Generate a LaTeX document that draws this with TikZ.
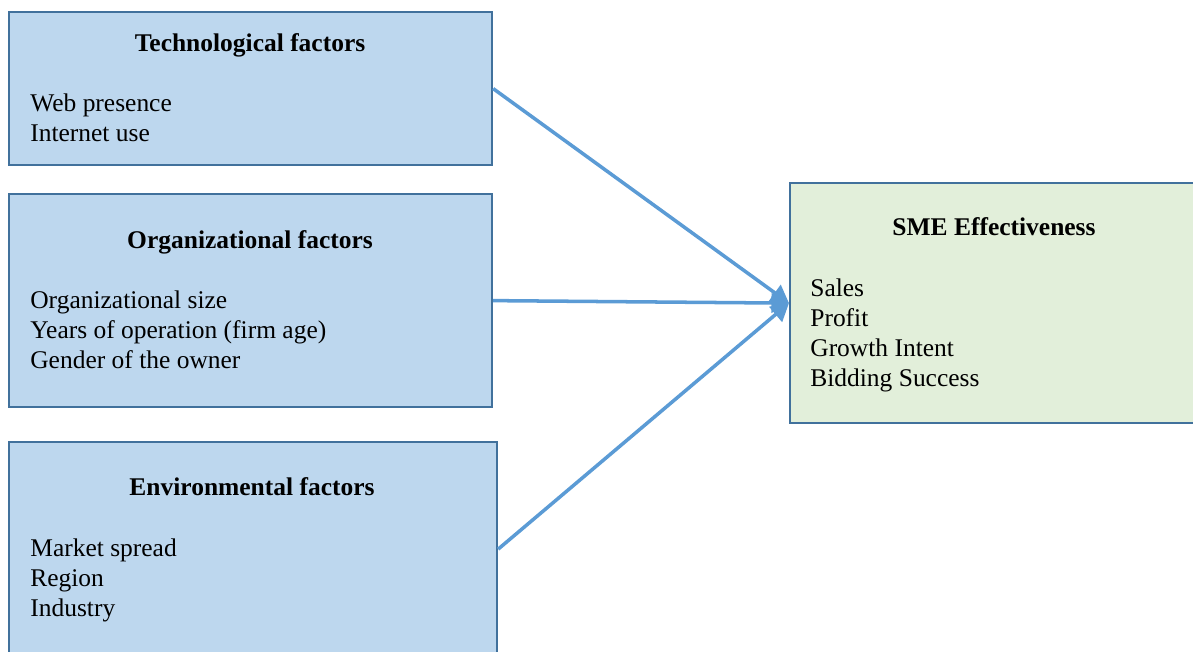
\documentclass[tikz,border=0pt]{standalone}
\usepackage{fontspec}
\setmainfont{Liberation Serif}
\usetikzlibrary{arrows.meta}

\definecolor{boxblue}{HTML}{BDD7EE}
\definecolor{boxgreen}{HTML}{E2EFDA}
\definecolor{edgeblue}{HTML}{41719C}
\definecolor{arrowblue}{HTML}{5B9BD5}

\tikzset{
  factor/.style={draw=edgeblue, line width=1.3pt, fill=boxblue, anchor=north west, inner sep=0pt},
  outcome/.style={factor, fill=boxgreen},
  head/.style={font=\fontsize{14.5}{17}\selectfont\bfseries, anchor=mid, inner sep=0pt},
  item/.style={font=\fontsize{14.5}{17}\selectfont, anchor=mid west, inner sep=0pt},
  link/.style={draw=arrowblue, line width=2pt, -{Triangle[length=10pt,width=11pt]}}
}

\begin{document}
\begin{tikzpicture}[x=0.02cm, y=-0.02cm]
  \useasboundingbox (0,0) rectangle (1193,652);
  \clip (0,0) rectangle (1193,652);

  % the three factor boxes and the outcome box
  \node[factor, minimum width=9.66cm, minimum height=3.06cm] (tech) at (8,11) {};
  \node[factor, minimum width=9.66cm, minimum height=4.26cm] (org) at (8,193) {};
  \node[factor, minimum width=9.76cm, minimum height=4.28cm] (env) at (8,441) {};
  \node[outcome, minimum width=8.4cm, minimum height=4.8cm] (sme) at (789,182) {};

  % titles
  \node[head] (tech-head) at (250,47) {Technological factors};
  \node[head] (org-head) at (250,244) {Organizational factors};
  \node[head] (env-head) at (252,491) {Environmental factors};
  \node[head] (sme-head) at (994,231) {SME Effectiveness};

  % items
  \foreach \txt [count=\i] in {Web presence, Internet use}
    \node[item] (tech-\i) at (30,77+30*\i) {\txt};
  \foreach \txt [count=\i] in {Organizational size, Years of operation (firm age), Gender of the owner}
    \node[item] (org-\i) at (30,274+30*\i) {\txt};
  \foreach \txt [count=\i] in {Market spread, Region, Industry}
    \node[item] (env-\i) at (30,522+30*\i) {\txt};
  \foreach \txt [count=\i] in {Sales, Profit, Growth Intent, Bidding Success}
    \node[item] (sme-\i) at (810,262+30*\i) {\txt};

  % links
  \draw[link] (tech.east) -- (sme.west);
  \draw[link] (org.east) -- (sme.west);
  \draw[link] (env.east) -- (sme.west);
\end{tikzpicture}
\end{document}
